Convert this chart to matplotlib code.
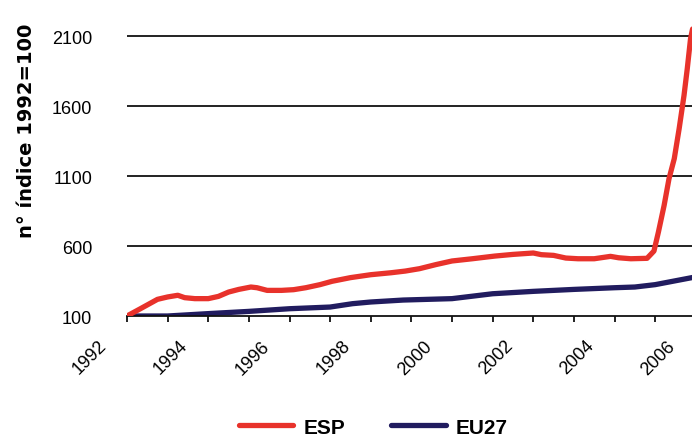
import numpy as np
import matplotlib
matplotlib.use('Agg')
import matplotlib.pyplot as plt
import matplotlib.transforms as mtransforms

# series (year, index 1992=100)
esp_years = [1992.0, 1992.33, 1992.75, 1993.0, 1993.25, 1993.42, 1993.67, 1994.0,
             1994.25, 1994.5, 1994.75, 1995.05, 1995.2, 1995.45, 1995.8, 1996.1,
             1996.4, 1996.75, 1997.05, 1997.5, 1998.0, 1998.5, 1998.85, 1999.2,
             1999.6, 2000.0, 2000.5, 2001.05, 2001.5, 2002.0, 2002.2, 2002.5,
             2002.8, 2003.1, 2003.5, 2003.9, 2004.1, 2004.4, 2004.8, 2004.97,
             2005.08, 2005.22, 2005.34, 2005.47, 2005.59, 2005.71, 2005.79,
             2005.87, 2005.92]
esp_values = [100, 152, 219, 236, 248, 231, 224, 224,
              240, 271, 290, 307, 302, 283, 283, 288,
              302, 324, 348, 374, 395, 409, 421, 438,
              467, 493, 509, 528, 540, 550, 538, 533,
              514, 509, 509, 526, 516, 509, 512, 564,
              700, 890, 1080, 1224, 1438, 1676, 1867,
              2080, 2150]

eu_years = [1992.0, 1993.0, 1994.0, 1995.0, 1996.0, 1997.0, 1997.55, 1998.0,
            1998.8, 2000.0, 2001.0, 2002.0, 2003.0, 2004.0, 2004.5, 2005.0,
            2005.92]
eu_values = [100, 100, 117, 133, 152, 164, 188, 200,
             214, 224, 259, 276, 290, 302, 307, 324,
             375]

y_ticks = [100, 600, 1100, 1600, 2100]
x_label_years = list(range(1992, 2007, 2))
x_tick_years = list(range(1992, 2007))

red = '#e8322b'
navy = '#211c5f'

plt.rcParams['font.family'] = ['Liberation Sans', 'DejaVu Sans']

fig = plt.figure(figsize=(6.92, 4.39), dpi=100)
ax = fig.add_axes([0.1835, 0.2779, 0.822, 0.6697])

ax.plot(esp_years, esp_values, color=red, lw=3.8, solid_joinstyle='round',
        solid_capstyle='round', label='ESP', zorder=3)
ax.plot(eu_years, eu_values, color=navy, lw=3.8, solid_joinstyle='round',
        solid_capstyle='round', label='EU27', zorder=2)

ax.set_xlim(1992, 2006)
ax.set_ylim(100, 2200)

for v in y_ticks[1:]:
    ax.axhline(v, color='#111111', lw=1.3, zorder=1)

ax.set_yticks(y_ticks)
ax.set_yticklabels([str(v) for v in y_ticks], fontsize=13)
ax.tick_params(axis='y', length=0, pad=25)

ax.set_xticks(x_tick_years, minor=True)
ax.set_xticks(x_label_years)
ax.set_xticklabels([str(y) for y in x_label_years], rotation=45,
                   ha='right', va='top', fontsize=13)
ax.tick_params(axis='x', which='both', length=4, width=1.3, direction='out',
               color='#111111', pad=11)
offset = mtransforms.ScaledTranslation(-17 / 100, 0, fig.dpi_scale_trans)
for lab in ax.get_xticklabels():
    lab.set_transform(lab.get_transform() + offset)

for s in ['top', 'right', 'left']:
    ax.spines[s].set_visible(False)
ax.spines['bottom'].set_linewidth(1.3)
ax.spines['bottom'].set_color('#111111')

fig.text(0.038, 0.703, 'n° índice 1992=100', rotation=90, ha='center',
         va='center', fontsize=14, fontweight='bold', family='DejaVu Sans')

fig.legend(loc='center', bbox_to_anchor=(0.54, 0.025), ncol=2, frameon=False,
           prop={'size': 15, 'weight': 'bold'}, handlelength=2.6,
           columnspacing=2.2, handletextpad=0.5)

fig.savefig('out.png', dpi=100)
